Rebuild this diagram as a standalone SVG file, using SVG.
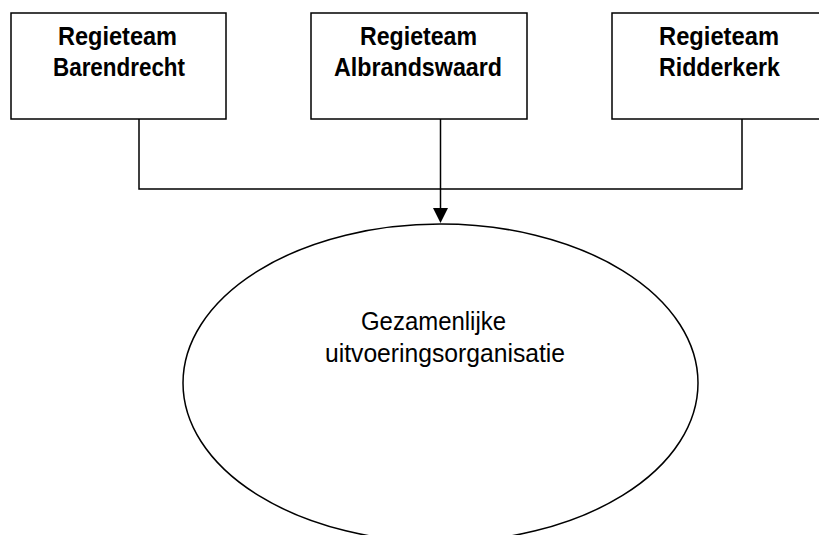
<svg xmlns="http://www.w3.org/2000/svg" width="819" height="535" viewBox="0 0 819 535">
<style>
.box{fill:#fff;stroke:#000;stroke-width:1.5}
.conn{fill:none;stroke:#000;stroke-width:1.5}
.b{font-family:"Liberation Sans",Arial,sans-serif;font-weight:bold;font-size:26px;fill:#000;text-anchor:middle}
.n{font-family:"Liberation Sans",Arial,sans-serif;font-size:25px;fill:#000;text-anchor:middle}
</style>
<rect width="819" height="535" fill="#fff"/>
<g id="connectors">
<polyline class="conn" points="139,119 139,189 742,189 742,119"/>
<line class="conn" x1="440.5" y1="119" x2="440.5" y2="210"/>
<polygon points="433,208 448,208 440.5,223" fill="#000"/>
</g>
<g id="barendrecht">
<rect class="box" x="11" y="13" width="215" height="106"/>
<text class="b" x="117.5" y="45" textLength="119" lengthAdjust="spacingAndGlyphs">Regieteam</text>
<text class="b" x="119" y="76" textLength="132" lengthAdjust="spacingAndGlyphs">Barendrecht</text>
</g>
<g id="albrandswaard">
<rect class="box" x="311" y="13" width="216" height="106"/>
<text class="b" x="418.5" y="45" textLength="117" lengthAdjust="spacingAndGlyphs">Regieteam</text>
<text class="b" x="418" y="76" textLength="168" lengthAdjust="spacingAndGlyphs">Albrandswaard</text>
</g>
<g id="ridderkerk">
<rect class="box" x="612" y="13" width="215" height="106"/>
<text class="b" x="719" y="45" textLength="120" lengthAdjust="spacingAndGlyphs">Regieteam</text>
<text class="b" x="719.5" y="76" textLength="121" lengthAdjust="spacingAndGlyphs">Ridderkerk</text>
</g>
<g id="uitvoeringsorganisatie">
<ellipse class="box" cx="440.5" cy="383" rx="257.5" ry="159"/>
<text class="n" x="433.5" y="330" textLength="145" lengthAdjust="spacingAndGlyphs">Gezamenlijke</text>
<text class="n" x="445" y="362" textLength="240" lengthAdjust="spacingAndGlyphs">uitvoeringsorganisatie</text>
</g>
</svg>
